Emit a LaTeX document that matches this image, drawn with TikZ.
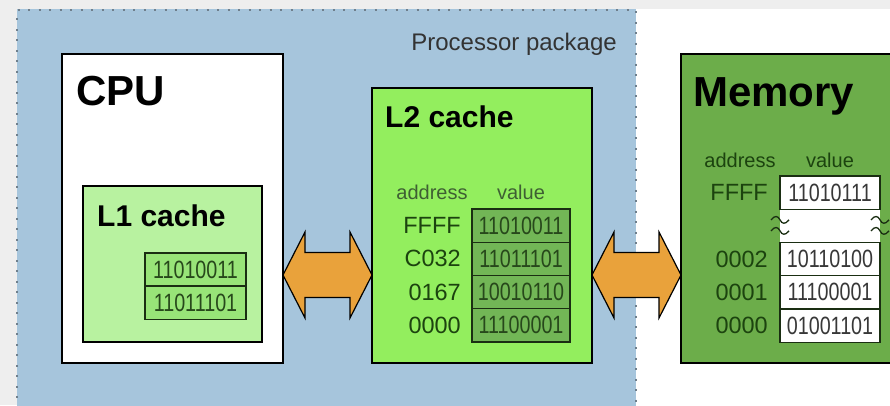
\documentclass[tikz,border=0pt]{standalone}
\usepackage{fontspec}
\setmainfont{Liberation Sans}
\newfontfamily\narrowfont[FakeStretch=0.79]{Liberation Sans}
\usetikzlibrary{calc}

\definecolor{pagegrey}{HTML}{EEEEEE}
\definecolor{pkgblue}{HTML}{A6C5DC}
\definecolor{pkgedge}{HTML}{6F7F8C}
\definecolor{lonefill}{HTML}{B8F2A0}
\definecolor{lonecell}{HTML}{98E478}
\definecolor{ltwofill}{HTML}{93EE5E}
\definecolor{ltwocell}{HTML}{72B656}
\definecolor{memfill}{HTML}{6CAD4A}
\definecolor{darkgreen}{HTML}{1C430F}
\definecolor{valgreen}{HTML}{27481B}
\definecolor{busorange}{HTML}{E9A23B}
\definecolor{cellline}{HTML}{1A2E12}

\tikzset{
  box/.style={draw=black, line width=2.6pt, inner sep=0pt, outer sep=0pt, anchor=north west},
  cellbox/.style={draw=cellline, line width=1.4pt, inner sep=0pt, outer sep=0pt,
    anchor=north west, minimum height=33.25pt,
    font=\narrowfont\fontsize{25}{25}\selectfont},
  bigtitle/.style={font=\bfseries\fontsize{42}{42}\selectfont, anchor=base west, inner sep=0pt},
  subtitle/.style={font=\bfseries\fontsize{30}{30}\selectfont, anchor=base west, inner sep=0pt},
  colhead/.style={font=\fontsize{20}{20}\selectfont, anchor=base, inner sep=0pt},
  addr/.style={font=\fontsize{23.5}{23.5}\selectfont, anchor=east, inner sep=0pt, text=darkgreen},
  bus/.style={fill=busorange, draw=black, line width=1.2pt, line join=miter},
  breakmark/.style={draw=cellline, line width=1.3pt},
}

% double-headed bus arrow between two tip points
\newcommand\busarrow[2]{%
  \draw[bus] (#1) -- ($(#1)+(22,-43)$) -- ($(#1)+(22,-22.5)$)
    -- ($(#2)+(-22,-22.5)$) -- ($(#2)+(-22,-43)$) -- (#2)
    -- ($(#2)+(-22,43)$) -- ($(#2)+(-22,22.5)$)
    -- ($(#1)+(22,22.5)$) -- ($(#1)+(22,43)$) -- cycle;}

% small wavy break mark centred on a point
\newcommand\wave[1]{%
  \draw[breakmark] ($(#1)+(-9,0)$) .. controls ($(#1)+(-5,-5)$) and ($(#1)+(-2,-4)$) .. (#1)
    .. controls ($(#1)+(2,4)$) and ($(#1)+(5,5)$) .. ($(#1)+(9,0)$);}

\begin{document}
\begin{tikzpicture}[x=1pt, y=-1pt]
\useasboundingbox (0,0) rectangle (890,405);
\clip (0,0) rectangle (890,405);

% page background
\fill[white] (0,0) rectangle (890,405);
\fill[pagegrey] (0,0) rectangle (890,9);
\fill[pagegrey] (0,0) rectangle (17,405);

% processor package
\node[fill=pkgblue, inner sep=0pt, outer sep=0pt, anchor=north west,
      minimum width=619pt, minimum height=410pt] (pkg) at (17,9) {};
\draw[pkgedge, line width=1.3pt, dash pattern=on 2pt off 8.5pt]
  (pkg.south west) -- ($(pkg.north west)+(0,1)$) -- ($(pkg.north east)+(0,1)$) -- (pkg.south east);
\node[font=\fontsize{24}{24}\selectfont, text=black!80, anchor=base east, inner sep=0pt]
  (pkglabel) at (617,50) {Processor package};

% CPU with its L1 cache
\node[box, fill=white, minimum width=221pt, minimum height=309pt] (cpu) at (62,54) {};
\node[bigtitle] (cputitle) at (76,105) {CPU};
\node[box, fill=lonefill, line width=2.4pt, minimum width=179pt, minimum height=156pt] (lone) at (83,186) {};
\node[subtitle] (lonetitle) at (97,226) {L1 cache};
\node[cellbox, fill=lonecell, minimum width=101pt, text=valgreen] (lonea) at (145,253) {11010011};
\node[cellbox, fill=lonecell, minimum width=101pt, text=valgreen] (loneb) at (145,286) {11011101};

% L2 cache
\node[box, fill=ltwofill, minimum width=220pt, minimum height=275pt] (ltwo) at (372,88) {};
\node[subtitle] (ltwotitle) at (385,127) {L2 cache};
\node[colhead, text=darkgreen!85] (ltwoaddr) at (432,199) {address};
\node[colhead, text=darkgreen!85] (ltwoval) at (521,199) {value};
\foreach \a/\v [count=\i from 0] in {FFFF/11010011, C032/11011101, 0167/10010110, 0000/11100001} {
  \node[cellbox, fill=ltwocell, minimum width=98pt, text=valgreen] (ltwoc\i) at (472,{209+33.25*\i}) {\v};
  \node[addr] (ltwoa\i) at (461,{225.6+33.25*\i}) {\a};
}

% main memory
\node[box, fill=memfill, minimum width=240pt, minimum height=309pt] (mem) at (681,54) {};
\node[bigtitle] (memtitle) at (693,106) {Memory};
\node[colhead, text=darkgreen] (memaddr) at (740,167) {address};
\node[colhead, text=darkgreen] (memval) at (830,167) {value};
\node[cellbox, fill=white, minimum width=100pt, text=black!78] (memc0) at (780,176) {11010111};
\node[fill=white, inner sep=0pt, outer sep=0pt, anchor=north west,
      minimum width=100pt, minimum height=33.25pt] (membreak) at (780,209.25) {};
\foreach \a/\v [count=\i from 2] in {0002/10110100, 0001/11100001, 0000/01001101} {
  \node[cellbox, fill=white, minimum width=100pt, text=black!78] (memc\i) at (780,{176+33.25*\i}) {\v};
  \node[addr] (mema\i) at (768,{192.6+33.25*\i}) {\a};
}
\node[addr] (mema0) at (768,192.6) {FFFF};
\draw[cellline, line width=1.4pt] (membreak.north west) -- (membreak.north east);
\draw[cellline, line width=1.4pt] (membreak.south west) -- (membreak.south east);
\coordinate (brkleft) at ($(membreak.west)+(0,-6)$);
\coordinate (brkright) at ($(membreak.east)+(0,-6)$);
\wave{brkleft}
\wave{$(brkleft)+(0,11)$}
\wave{brkright}
\wave{$(brkright)+(0,11)$}

% buses between the levels
\coordinate (busrow) at (0,275);
\coordinate (busa) at (cpu.east |- busrow);
\coordinate (busb) at (ltwo.west |- busrow);
\coordinate (busc) at (ltwo.east |- busrow);
\coordinate (busd) at (mem.west |- busrow);
\busarrow{busa}{busb}
\busarrow{busc}{busd}
\end{tikzpicture}
\end{document}
